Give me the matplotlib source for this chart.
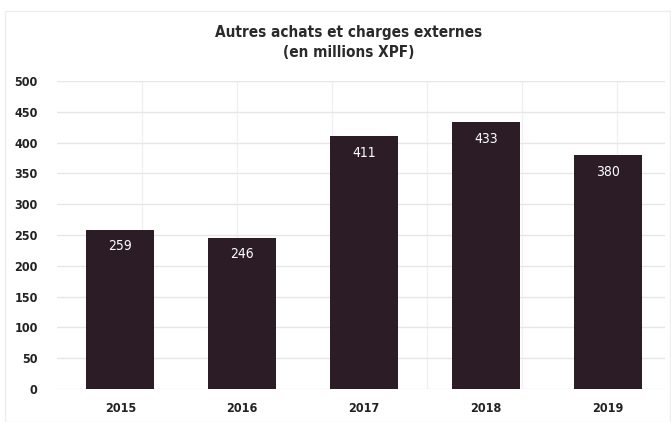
import matplotlib
matplotlib.use("Agg")
import matplotlib.pyplot as plt
from matplotlib.patches import Rectangle

years = ["2015", "2016", "2017", "2018", "2019"]
values = [259, 246, 411, 433, 380]
yticks = [0, 50, 100, 150, 200, 250, 300, 350, 400, 450, 500]

bar_color = "#2b1c25"
font = ["DejaVu Sans"]

fig = plt.figure(figsize=(6.71, 4.22), dpi=100)
fig.patches.append(Rectangle((0.008, 0.0), 0.99, 0.975, transform=fig.transFigure,
                             fill=False, edgecolor="#eeeeee", linewidth=1.0))
ax = fig.add_axes([0.085, 0.078, 0.906, 0.73])

x = list(range(len(years)))
bars = ax.bar(x, values, width=0.56, color=bar_color, zorder=3)
for xi, v in zip(x, values):
    ax.annotate(str(v), (xi, v), xytext=(0, -12), textcoords="offset points",
                ha="center", va="center", color="white", fontsize=10,
                family=font, stretch="condensed", zorder=4)

ax.set_xlim(-0.52, 4.47)
ax.set_ylim(0, 500)
ax.set_yticks(yticks)
ax.set_yticklabels([str(t) for t in yticks], family=font, fontweight="bold",
                   fontsize=9, color="#222222", stretch="condensed")
ax.set_xticks(x)
ax.set_xticklabels(years, family=font, fontweight="bold", fontsize=9, color="#222222",
                   stretch="condensed")
ax.tick_params(length=0, pad=14)
ax.tick_params(axis="x", pad=9)

ax.grid(axis="y", color="#e6e6e6", linewidth=1.0, zorder=0)
ax.set_xticks([0.18, 0.96, 1.74, 2.52, 3.30, 4.08], minor=True)
ax.grid(axis="x", which="minor", color="#f0f0f0", linewidth=1.0, zorder=0)
ax.tick_params(which="minor", length=0)
for s in ax.spines.values():
    s.set_visible(False)

fig.text(0.519, 0.90, "Autres achats et charges externes\n(en millions XPF)",
         ha="center", va="center", family=font, fontweight="semibold",
         fontsize=11, color="#2a2a2a", linespacing=1.45, stretch="condensed")

fig.savefig("out.png", dpi=100)
